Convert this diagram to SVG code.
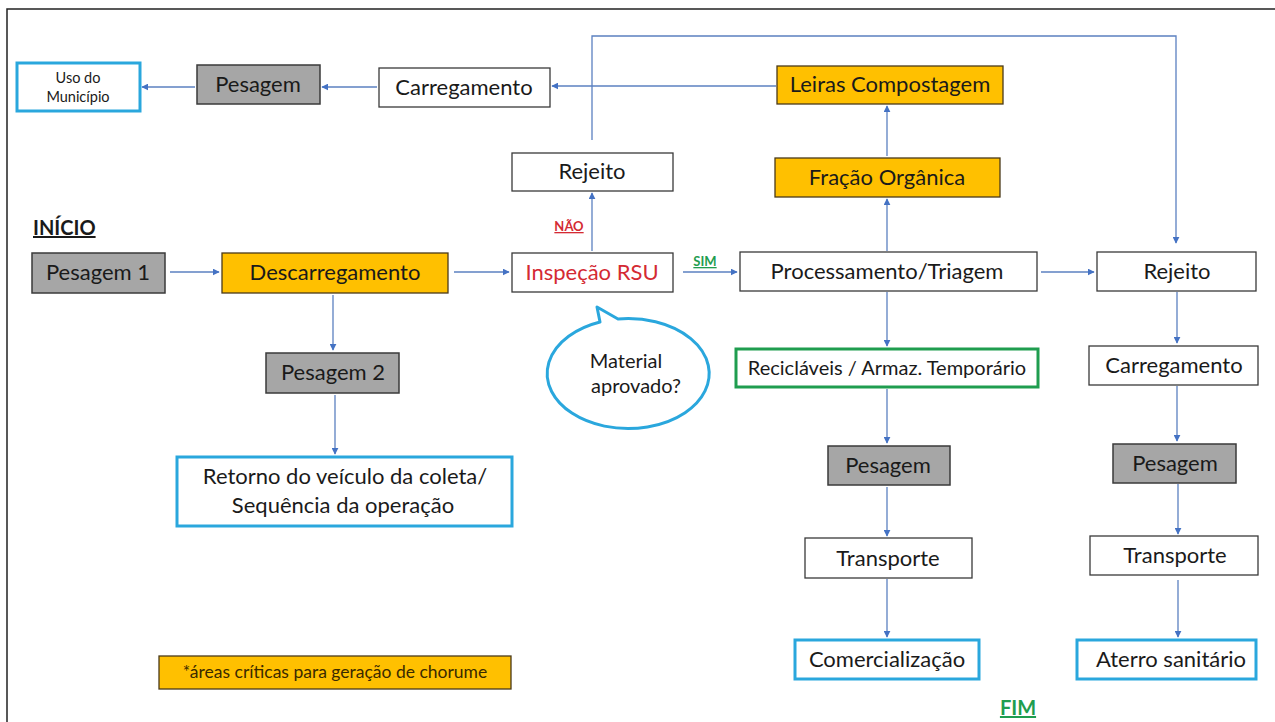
<svg xmlns="http://www.w3.org/2000/svg" width="1275" height="722" viewBox="0 0 1275 722">
<style>
text{font-family:Lato,"Noto Sans","Liberation Sans",sans-serif;fill:#1a1a1a;text-anchor:middle}
.w{fill:#fff;stroke:#3a3a3a;stroke-width:1.3}
.g{fill:#a6a6a6;stroke:#3a3a3a;stroke-width:1.5}
.o{fill:#ffc000;stroke:#4a3a1a;stroke-width:1.3}
.b{fill:#fff;stroke:#2aa7dd;stroke-width:3}
.gr{fill:#fff;stroke:#1f9d4f;stroke-width:3}
.t{font-size:22px}
.c line,.c path{stroke:#5b80c0;stroke-width:1.3;fill:none}
</style>
<defs>
<marker id="a" viewBox="0 0 10 10" refX="9" refY="5" markerWidth="7" markerHeight="7" markerUnits="userSpaceOnUse" orient="auto">
<path d="M0,0 L10,5 L0,10 z" fill="#4472c4"/>
</marker>
</defs>
<rect x="0" y="0" width="1275" height="722" fill="#fff"/>
<path d="M7,722 V9 H1275" fill="none" stroke="#222" stroke-width="1.5"/>

<g class="c">
<line x1="377" y1="87" x2="322" y2="87" marker-end="url(#a)"/>
<line x1="195" y1="87" x2="142" y2="87" marker-end="url(#a)"/>
<line x1="776" y1="86" x2="552" y2="86" marker-end="url(#a)"/>
<path d="M592,140 V36 H1176 V243" marker-end="url(#a)"/>
<line x1="592" y1="251" x2="592" y2="193" marker-end="url(#a)"/>
<line x1="887" y1="251" x2="887" y2="199" marker-end="url(#a)"/>
<line x1="887" y1="156" x2="887" y2="106" marker-end="url(#a)"/>
<line x1="170" y1="272" x2="219" y2="272" marker-end="url(#a)"/>
<line x1="454" y1="272" x2="509" y2="272" marker-end="url(#a)"/>
<line x1="683" y1="272" x2="737" y2="272" marker-end="url(#a)"/>
<line x1="1041" y1="272" x2="1094" y2="272" marker-end="url(#a)"/>
<line x1="333" y1="295" x2="333" y2="350" marker-end="url(#a)"/>
<line x1="335" y1="395" x2="335" y2="454" marker-end="url(#a)"/>
<line x1="887" y1="292" x2="887" y2="346" marker-end="url(#a)"/>
<line x1="887" y1="389" x2="887" y2="443" marker-end="url(#a)"/>
<line x1="887" y1="487" x2="887" y2="536" marker-end="url(#a)"/>
<line x1="887" y1="579" x2="887" y2="637" marker-end="url(#a)"/>
<line x1="1177" y1="292" x2="1177" y2="343" marker-end="url(#a)"/>
<line x1="1177" y1="386" x2="1177" y2="441" marker-end="url(#a)"/>
<line x1="1178" y1="484" x2="1178" y2="534" marker-end="url(#a)"/>
<line x1="1178" y1="580" x2="1178" y2="637" marker-end="url(#a)"/>
</g>

<g id="uso"><rect class="b" x="17" y="63" width="123" height="48"/><text x="78" y="83" font-size="14.5">Uso do</text><text x="78" y="102" font-size="14.5">Município</text></g>
<g id="pesagem-top"><rect class="g" x="197" y="65" width="123" height="39"/><text class="t" x="258" y="92">Pesagem</text></g>
<g id="carregamento-top"><rect class="w" x="379" y="68" width="171" height="39"/><text class="t" x="464" y="95">Carregamento</text></g>
<g id="leiras"><rect class="o" x="777" y="66" width="226" height="38"/><text class="t" x="890" y="92">Leiras Compostagem</text></g>
<g id="rejeito-top"><rect class="w" x="512" y="153" width="161" height="38"/><text class="t" x="592" y="179">Rejeito</text></g>
<g id="fracao"><rect class="o" x="775" y="158" width="225" height="39"/><text class="t" x="887" y="185">Fração Orgânica</text></g>
<g id="inicio"><text x="33" y="235" font-size="20" font-weight="bold" text-decoration="underline" style="text-anchor:start">INÍCIO</text></g>
<g id="pesagem1"><rect class="g" x="32" y="253" width="133" height="40"/><text class="t" x="98" y="280">Pesagem 1</text></g>
<g id="descarregamento"><rect class="o" x="222" y="253" width="226" height="40"/><text class="t" x="335" y="280">Descarregamento</text></g>
<g id="inspecao"><rect class="w" x="512" y="253" width="161" height="39"/><text class="t" x="592" y="280" style="fill:#d42a33">Inspeção RSU</text></g>
<g id="nao"><text x="569" y="231" font-size="13" font-weight="bold" text-decoration="underline" style="fill:#d42a33">NÃO</text></g>
<g id="sim"><text x="705" y="266" font-size="13" font-weight="bold" text-decoration="underline" style="fill:#1f9d4f">SIM</text></g>
<g id="processamento"><rect class="w" x="740" y="252" width="297" height="39"/><text class="t" x="887" y="279">Processamento/Triagem</text></g>
<g id="rejeito-right"><rect class="w" x="1097" y="252" width="159" height="39"/><text class="t" x="1177" y="279">Rejeito</text></g>
<g id="pesagem2"><rect class="g" x="266" y="353" width="133" height="40"/><text class="t" x="333" y="380">Pesagem 2</text></g>
<g id="retorno"><rect class="b" x="177" y="457" width="335" height="69"/><text class="t" x="345" y="484">Retorno do veículo da coleta/</text><text class="t" x="343" y="513">Sequência da operação</text></g>
<g id="bubble"><path d="M600,322 A81,55 0 1 0 618,319 L597,307 Z" fill="#fff" stroke="#2aa7dd" stroke-width="3" stroke-linejoin="round"/><text x="626" y="368" font-size="20">Material</text><text x="636" y="393" font-size="20">aprovado?</text></g>
<g id="reciclaveis"><rect class="gr" x="736" y="349" width="302" height="38"/><text x="887" y="375" font-size="20">Recicláveis / Armaz. Temporário</text></g>
<g id="carregamento-right"><rect class="w" x="1089" y="346" width="169" height="39"/><text class="t" x="1174" y="373">Carregamento</text></g>
<g id="pesagem-mid"><rect class="g" x="828" y="446" width="122" height="39"/><text class="t" x="888" y="473">Pesagem</text></g>
<g id="pesagem-right"><rect class="g" x="1113" y="444" width="123" height="39"/><text class="t" x="1175" y="471">Pesagem</text></g>
<g id="transporte-mid"><rect class="w" x="805" y="538" width="167" height="40"/><text class="t" x="888" y="566">Transporte</text></g>
<g id="transporte-right"><rect class="w" x="1090" y="536" width="168" height="39"/><text class="t" x="1175" y="563">Transporte</text></g>
<g id="comercializacao"><rect class="b" x="795" y="640" width="184" height="39"/><text class="t" x="887" y="667">Comercialização</text></g>
<g id="aterro"><rect class="b" x="1077" y="640" width="179" height="39"/><text class="t" x="1171" y="667">Aterro sanitário</text></g>
<g id="fim"><text x="1018" y="715" font-size="20" font-weight="bold" text-decoration="underline" style="fill:#1f9d4f">FIM</text></g>
<g id="legenda"><rect class="o" x="159" y="656" width="352" height="33"/><text x="335" y="678" font-size="17.5" style="fill:#3a2a00">*áreas críticas para geração de chorume</text></g>
</svg>
